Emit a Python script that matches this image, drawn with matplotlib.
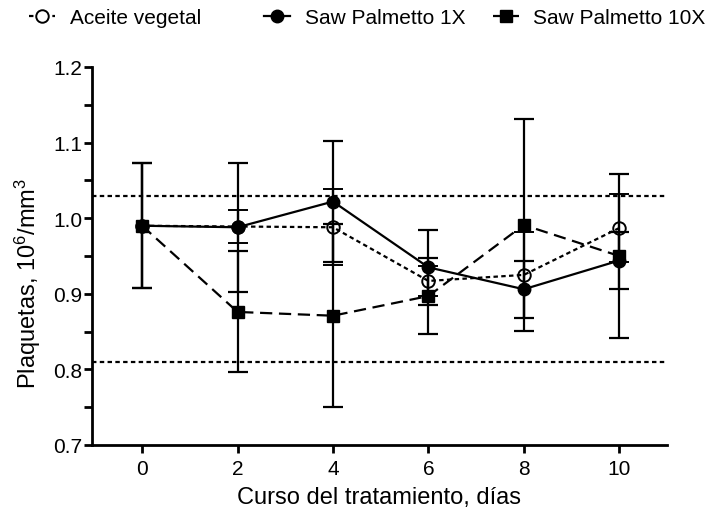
import numpy as np
import matplotlib
matplotlib.use('Agg')
import matplotlib.pyplot as plt
from matplotlib.ticker import MultipleLocator, FormatStrFormatter
from matplotlib.lines import Line2D

plt.rcParams['font.family'] = ['Liberation Sans', 'DejaVu Sans']
plt.rcParams['mathtext.default'] = 'regular'

# data
days = [0, 2, 4, 6, 8, 10]

aceite = [0.990, 0.989, 0.988, 0.917, 0.925, 0.987]
aceite_err = [0.083, 0.022, 0.050, 0.020, 0.057, 0.045]

sp1x = [0.990, 0.988, 1.022, 0.935, 0.906, 0.944]
sp1x_err = [0.083, 0.085, 0.080, 0.050, 0.038, 0.038]

sp10x = [0.990, 0.876, 0.871, 0.897, 0.991, 0.950]
sp10x_err = [0.083, 0.080, 0.121, 0.050, 0.140, 0.108]

ref_high = 1.03
ref_low = 0.81

labels = ['Aceite vegetal', 'Saw Palmetto 1X', 'Saw Palmetto 10X']

dot = (0, (2.0, 1.5))
dash = (0, (5.5, 3.0))

fig = plt.figure(figsize=(7.09, 5.10), dpi=100)
ax = fig.add_axes([0.1298, 0.1255, 0.8109, 0.7412])

# reference range lines
ax.axhline(ref_high, color='black', lw=1.6, ls=dot, zorder=1)
ax.axhline(ref_low, color='black', lw=1.6, ls=dot, zorder=1)

common = dict(color='black', lw=1.6, elinewidth=1.6, capsize=7, capthick=1.6)

ax.errorbar(days, aceite, yerr=aceite_err, fmt='o', ls=dot,
            mfc='none', mec='black', mew=1.4, ms=9, zorder=4, **common)
ax.errorbar(days, sp1x, yerr=sp1x_err, fmt='o', ls='-',
            mfc='black', mec='black', ms=9, zorder=5, **common)
ax.errorbar(days, sp10x, yerr=sp10x_err, fmt='s', ls=dash,
            mfc='black', mec='black', ms=8, zorder=3, **common)

ax.set_xlim(-1.05, 11.0)
ax.set_ylim(0.7, 1.2)
ax.set_xticks(days)
ax.yaxis.set_major_locator(MultipleLocator(0.1))
ax.yaxis.set_minor_locator(MultipleLocator(0.05))
ax.yaxis.set_major_formatter(FormatStrFormatter('%.1f'))

for s in ['top', 'right']:
    ax.spines[s].set_visible(False)
for s in ['left', 'bottom']:
    ax.spines[s].set_linewidth(2)

ax.tick_params(which='major', direction='out', length=6, width=2, labelsize=15, pad=1)
ax.tick_params(which='minor', direction='out', length=6, width=2)
ax.tick_params(axis='x', which='minor', length=0)
ax.tick_params(axis='x', pad=4)

ax.set_xlabel('Curso del tratamiento, días', fontsize=17, labelpad=6)
ax.set_ylabel('Plaquetas, 10$^6$/mm$^3$', fontsize=17)
ax.yaxis.set_label_coords(-0.085, 0.431)

handles = [
    Line2D([], [], color='black', lw=1.6, ls=dot, marker='o', mfc='white', mec='black', mew=1.4, ms=9),
    Line2D([], [], color='black', lw=1.6, ls='-', marker='o', mfc='black', ms=9),
    Line2D([], [], color='black', lw=1.6, ls=dash, marker='s', mfc='black', ms=8),
]
# one legend per entry, spaced like the original
for h, lab, x0 in zip(handles, labels, [0.041, 0.373, 0.695]):
    leg = fig.legend([h], [lab], loc='center left', bbox_to_anchor=(x0, 0.964),
                     frameon=False, fontsize=15, handlelength=1.25,
                     handletextpad=0.7, borderpad=0, borderaxespad=0)

fig.savefig('out.png', dpi=100)
